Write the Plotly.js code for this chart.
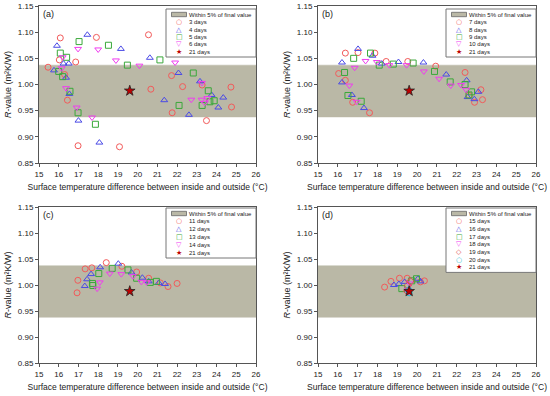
<!DOCTYPE html>
<html><head><meta charset="utf-8">
<script src="https://cdn.plot.ly/plotly-3.0.1.min.js"></script>
<style>body{margin:0;padding:0;background:#fff}#chart{width:550px;height:396px}</style>
</head><body><div id="chart"></div>
<script>
// ---- data ----
const finalValue = 0.988;
const bandLow = 0.938, bandHigh = 1.037;
const bandX = [15, 26];

// panel (a)
const a3x = [15.46,16.08,16.03,16.3,16.86,16.44,16.98,17.91,19.08,20.55,20.67,21.72,21.75,22.28,23.27,23.49,24.73,24.76];
const a3y = [1.033,1.089,1.047,1.019,1.043,0.970,0.883,1.090,0.881,1.095,0.991,1.017,0.946,0.996,0.999,0.931,0.995,0.957];
const a4x = [15.76,15.91,16.24,16.37,16.51,16.54,17.0,17.45,18.06,19.15,20.62,21.35,22.07,22.6,23.16,23.75,24.09,24.34];
const a4y = [1.027,1.074,1.040,1.013,1.040,0.982,0.931,1.095,0.889,1.068,1.051,0.970,1.022,0.942,1.006,0.980,0.956,0.975];
const a5x = [16.0,16.08,16.2,16.4,16.57,16.98,17.03,17.86,18.52,19.48,21.13,22.1,22.82,23.27,23.58,23.66,23.88];
const a5y = [1.025,1.060,1.015,1.052,0.987,0.946,1.082,0.924,1.075,1.037,1.047,0.960,1.022,0.960,0.988,0.967,0.969];
const a6x = [16.15,16.2,16.37,16.91,16.98,17.69,18.0,18.9,20.09,21.9,22.72,23.24,23.26,23.4,23.53];
const a6y = [1.031,1.052,0.993,0.956,1.068,0.937,1.067,1.046,1.036,1.042,0.971,0.971,1.003,0.965,0.974];

// panel (b)
const b7x = [16.04,16.38,16.38,16.75,17.02,17.6,17.87,18.44,19.53,20.94,22.42,22.62,22.9,23.22,23.3];
const b7y = [1.021,1.060,1.008,0.966,1.061,0.946,1.060,1.044,1.044,1.035,1.023,0.979,0.966,0.990,0.971];
const b8x = [16.21,16.21,16.71,17.02,17.32,17.75,18.22,19.06,20.32,21.47,22.5,22.55,22.89,23.09];
const b8y = [1.042,1.004,0.980,1.068,0.955,1.055,1.040,1.043,1.042,1.019,1.008,0.976,0.972,0.986];
const b9x = [16.34,16.51,16.8,17.18,17.65,18.09,18.8,19.8,20.88,21.67,22.42,22.62,22.75];
const b9y = [1.023,0.979,1.050,0.968,1.060,1.037,1.039,1.041,1.025,1.005,1.000,0.980,0.986];
const b10x = [16.58,16.85,16.95,17.4,17.97,18.6,19.47,20.34,21.11,21.7,22.22,22.47];
const b10y = [0.998,1.032,0.967,1.045,1.043,1.037,1.037,1.025,1.011,0.998,0.999,0.990];

// panel (c)
const c11x = [16.93,16.97,17.34,17.68,18.41,19.2,19.95,20.56,21.15,21.54,22.0];
const c11y = [0.985,1.009,1.031,1.033,1.043,1.036,1.025,1.013,1.004,0.997,1.003];
const c12x = [17.32,17.44,17.64,18.1,19.02,19.69,20.24,20.56,21.07,21.39];
const c12y = [0.998,1.011,1.021,1.034,1.041,1.024,1.014,1.007,1.004,1.002];
const c13x = [17.71,17.73,18.03,18.71,19.51,19.95,20.64,20.95];
const c13y = [1.003,0.999,1.022,1.032,1.029,1.013,1.005,1.007];
const c14x = [17.95,18.08,18.59,19.17,19.76,20.19,20.46];
const c14y = [0.993,1.005,1.022,1.021,1.017,1.006,1.005];

// panel (d)
const d15x = [18.36,18.68,19.11,19.5,20.17,20.37];
const d15y = [0.996,1.007,1.013,1.013,1.006,1.008];
const d16x = [18.83,19.08,19.37,20.04,20.17];
const d16y = [1.000,1.002,1.006,1.012,1.007];
const d17x = [19.23,19.73,19.97];
const d17y = [0.993,1.008,1.012];
const d18x = [19.53,19.63,19.56];
const d18y = [0.991,1.003,0.986];
const d19x = [19.53,19.66,19.5];
const d19y = [0.999,1.007,0.988];
const d20x = [19.6,19.58];
const d20y = [0.985,0.990];

const finalX = 19.6;
const xTicks = [15,16,17,18,19,20,21,22,23,24,25,26];
const yTicks = [0.85,0.90,0.95,1.00,1.05,1.10,1.15];
const panelLabels = ['(a)','(b)','(c)','(d)'];
const bandName = 'Within 5% of final value';
const xTitle = 'Surface temperature difference between inside and outside (°C)';
const yTitle = '<i>R</i>-value (m²K/W)';

// ---- styles ----
const FONT = 'Liberation Sans, Arial, sans-serif';
const BAND = '#bab8a6';
const styles = {
  red:  {symbol:'circle-open', glyph:'○', color:'#f25a5a'},
  blue: {symbol:'triangle-up-open', glyph:'△', color:'#4a4ae6'},
  green:{symbol:'square-open', glyph:'□', color:'#3aa83a'},
  mag:  {symbol:'triangle-down-open', glyph:'▽', color:'#f03cf0'},
  dia:  {symbol:'diamond-open', glyph:'◇', color:'#e05050'},
  cyan: {symbol:'circle-open', glyph:'○', color:'#22bcd0'},
  star: {symbol:'star', glyph:'★', color:'#c00000'}
};

const W=550, H=396;
const px = (a,b)=>[a/W, b/W];
const py = (top,bot)=>[1-bot/H, 1-top/H];
const domX = [px(39,256), px(318,536), px(39,256), px(318,536)];
const domY = [py(6,163), py(6,163), py(207,363), py(207,363)];
const plotTop = [6,6,207,207];
const plotRight = [256,536,256,536];

const traces = [];
const legends = [[],[],[],[]];
function band(i){
  const ax = i===0?'':String(i+1);
  traces.push({x:[bandX[0],bandX[1],bandX[1],bandX[0],bandX[0]], y:[bandLow,bandLow,bandHigh,bandHigh,bandLow],
    xaxis:'x'+ax, yaxis:'y'+ax, mode:'lines', fill:'toself', fillcolor:BAND,
    line:{color:BAND,width:0.5}, name:bandName, hoverinfo:'skip', showlegend:false});
}
function pts(i, x, y, st, name){
  const ax = i===0?'':String(i+1);
  traces.push({x:x, y:y, xaxis:'x'+ax, yaxis:'y'+ax, mode:'markers', name:name, showlegend:false,
    marker:{symbol:st.symbol, size:6, color:st.color, line:{width:1, color:st.color}}});
  legends[i].push({name:name, st:st});
}
function star(i){
  const ax = i===0?'':String(i+1);
  traces.push({x:[finalX], y:[finalValue], xaxis:'x'+ax, yaxis:'y'+ax, mode:'markers', name:'21 days', showlegend:false,
    marker:{symbol:'star', size:8, color:'#c00000', line:{width:0.8, color:'#222'}}});
  legends[i].push({name:'21 days', st:styles.star});
}

band(0);
pts(0,a3x,a3y,styles.red,'3 days');
pts(0,a4x,a4y,styles.blue,'4 days');
pts(0,a5x,a5y,styles.green,'5 days');
pts(0,a6x,a6y,styles.mag,'6 days');
star(0);

band(1);
pts(1,b7x,b7y,styles.red,'7 days');
pts(1,b8x,b8y,styles.blue,'8 days');
pts(1,b9x,b9y,styles.green,'9 days');
pts(1,b10x,b10y,styles.mag,'10 days');
star(1);

band(2);
pts(2,c11x,c11y,styles.red,'11 days');
pts(2,c12x,c12y,styles.blue,'12 days');
pts(2,c13x,c13y,styles.green,'13 days');
pts(2,c14x,c14y,styles.mag,'14 days');
star(2);

band(3);
pts(3,d15x,d15y,styles.red,'15 days');
pts(3,d16x,d16y,styles.blue,'16 days');
pts(3,d17x,d17y,styles.green,'17 days');
pts(3,d18x,d18y,styles.mag,'18 days');
pts(3,d19x,d19y,styles.dia,'19 days');
pts(3,d20x,d20y,styles.cyan,'20 days');
star(3);

function xax(i){
  return {domain:domX[i], range:[15,26], tickvals:xTicks, ticks:'outside', ticklen:3, tickwidth:1,
    tickcolor:'#555', showline:true, linecolor:'#555', linewidth:1, mirror:true, showgrid:false, zeroline:false,
    tickfont:{family:FONT,size:8,color:'#222'}, anchor: i===0?'y':'y'+(i+1),
    title:{text:xTitle, font:{family:FONT,size:8.5,color:'#222'}, standoff:6}};
}
function yax(i){
  return {domain:domY[i], range:[0.85,1.15], tickvals:yTicks, ticktext:yTicks.map(v=>v.toFixed(2)), ticks:'outside', ticklen:3, tickwidth:1,
    tickcolor:'#555', showline:true, linecolor:'#555', linewidth:1, mirror:true, showgrid:false, zeroline:false,
    tickfont:{family:FONT,size:8,color:'#222'}, anchor: i===0?'x':'x'+(i+1),
    title:{text:yTitle, font:{family:FONT,size:9,color:'#222'}, standoff:4}};
}

// ---- custom compact legends (shapes + annotations) ----
const shapes = [];
const annotations = [];
const legTopOff = [3, 3, 1, 1];
const legStep = [7.5, 7.5, 7.9, 7.7];
legends.forEach((items, i) => {
  const right = plotRight[i], left = right - 90;
  const top = plotTop[i] + legTopOff[i];
  const rows = items.length + 1;
  const step = legStep[i];
  const first = top + 5.5;
  const bottom = first + step*(rows-1) + 5;
  const X = v => v/W, Y = v => 1 - v/H;
  shapes.push({type:'rect', xref:'paper', yref:'paper', x0:X(left), x1:X(right), y0:Y(bottom), y1:Y(top),
    fillcolor:'#fff', line:{color:'#777', width:1}, layer:'above'});
  shapes.push({type:'rect', xref:'paper', yref:'paper', x0:X(left+5.5), x1:X(left+20.5), y0:Y(first+2.2), y1:Y(first-2.2),
    fillcolor:BAND, line:{color:'#666', width:0.8}, layer:'above'});
  annotations.push({text:bandName, xref:'paper', yref:'paper', x:X(left+22), y:Y(first), xanchor:'left', yanchor:'middle',
    showarrow:false, borderpad:0, font:{family:FONT,size:6,color:'#222'}});
  items.forEach((it, k) => {
    const yy = first + step*(k+1);
    annotations.push({text:it.st.glyph, xref:'paper', yref:'paper', x:X(left+13), y:Y(yy), xanchor:'center', yanchor:'middle',
      showarrow:false, borderpad:0, font:{family:'DejaVu Sans, sans-serif', size:7, color:it.st.color}});
    annotations.push({text:it.name, xref:'paper', yref:'paper', x:X(left+22), y:Y(yy), xanchor:'left', yanchor:'middle',
      showarrow:false, borderpad:0, font:{family:FONT,size:6,color:'#222'}});
  });
});
panelLabels.forEach((t,i) => annotations.push({text:t, xref:'paper', yref:'paper', x:domX[i][0]+2/W, y:domY[i][1]-1/H,
  xanchor:'left', yanchor:'top', showarrow:false, font:{family:FONT,size:9,color:'#222'}}));

const layout = {
  width:W, height:H, margin:{l:0,r:0,t:0,b:0}, paper_bgcolor:'#fff', plot_bgcolor:'#fff',
  showlegend:false, font:{family:FONT},
  xaxis:xax(0), yaxis:yax(0), xaxis2:xax(1), yaxis2:yax(1), xaxis3:xax(2), yaxis3:yax(2), xaxis4:xax(3), yaxis4:yax(3),
  shapes:shapes, annotations:annotations
};
Plotly.newPlot('chart', traces, layout, {displayModeBar:false, staticPlot:true});
</script></body></html>
